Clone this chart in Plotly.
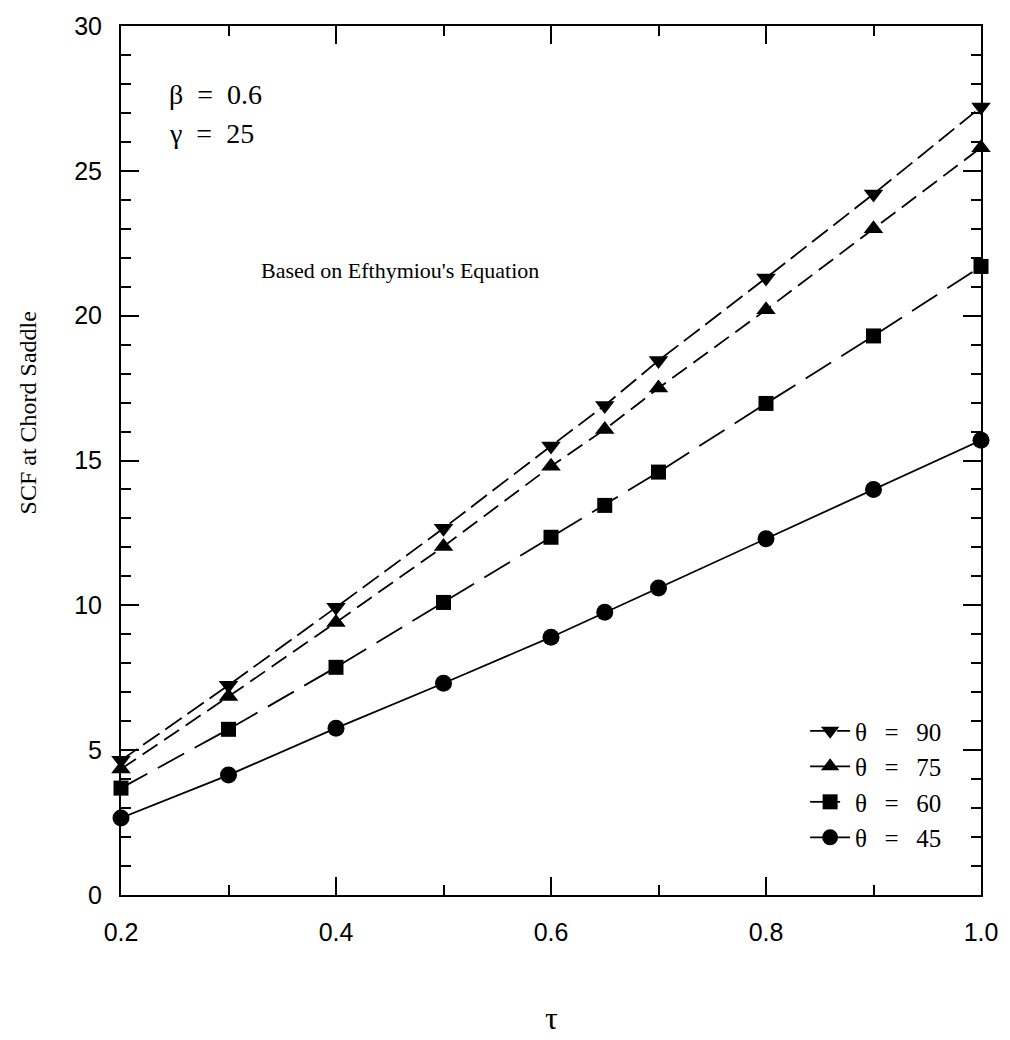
import plotly.graph_objects as go

tau = [0.2, 0.3, 0.4, 0.5, 0.6, 0.65, 0.7, 0.8, 0.9, 1.0]
scf_90 = [4.65, 7.24, 9.93, 12.66, 15.5, 16.9, 18.45, 21.3, 24.2, 27.2]
scf_75 = [4.35, 6.85, 9.41, 12.03, 14.8, 16.07, 17.5, 20.2, 23.0, 25.8]
scf_60 = [3.69, 5.72, 7.86, 10.1, 12.35, 13.45, 14.6, 16.97, 19.3, 21.7]
scf_45 = [2.66, 4.14, 5.76, 7.31, 8.9, 9.76, 10.6, 12.3, 14.0, 15.7]

sp = "\u2002\u2009"
series = [
    ("θ" + sp + "=" + sp + "90", scf_90, "triangle-down", 17, "20px,7px"),
    ("θ" + sp + "=" + sp + "75", scf_75, "triangle-up", 17, "18px,8px"),
    ("θ" + sp + "=" + sp + "60", scf_60, "square", 15, "30px,12px"),
    ("θ" + sp + "=" + sp + "45", scf_45, "circle", 17, "solid"),
]

serif = "Liberation Serif"
sans = "Liberation Sans"

fig = go.Figure()
for name, ys, sym, size, dash in series:
    fig.add_trace(go.Scatter(
        x=tau, y=ys, name=name, mode="lines+markers", cliponaxis=False,
        line=dict(color="black", width=1.8, dash=dash),
        marker=dict(symbol=sym, size=size, color="black", line=dict(width=0)),
    ))

axis_common = dict(
    showline=True, linecolor="black", linewidth=2, mirror="allticks",
    ticks="inside", ticklen=18, tickwidth=1.5, tickcolor="black",
    showgrid=False, zeroline=False,
    tickfont=dict(family=sans, size=25, color="black"),
)

fig.update_xaxes(
    range=[0.2, 1.0], tickvals=[0.2, 0.4, 0.6, 0.8, 1.0],
    ticktext=["0.2", "0.4", "0.6", "0.8", "1.0"],
    minor=dict(ticks="inside", ticklen=10, tickwidth=1.5, tickcolor="black", dtick=0.1, tick0=0.2),
    ticklabelstandoff=14,
    **axis_common,
)
fig.update_yaxes(
    range=[0, 30], tickvals=[0, 5, 10, 15, 20, 25, 30],
    minor=dict(ticks="inside", ticklen=10, tickwidth=1.5, tickcolor="black", dtick=1),
    ticklabelstandoff=12,
    **axis_common,
)

fig.add_annotation(text="β\u2002=\u20020.6", xref="paper", yref="paper",
                   x=(167 - 121) / 863, y=(895 - 93) / 871, xanchor="left", yanchor="middle",
                   showarrow=False, font=dict(family=serif, size=28, color="black"))
fig.add_annotation(text="γ\u2002=\u200225", xref="paper", yref="paper",
                   x=(167 - 121) / 863, y=(895 - 132) / 871, xanchor="left", yanchor="middle",
                   showarrow=False, font=dict(family=serif, size=28, color="black"))
fig.add_annotation(text="Based on Efthymiou's Equation", xref="paper", yref="paper",
                   x=(401 - 121) / 863, y=(895 - 269) / 871, xanchor="center", yanchor="middle",
                   showarrow=False, font=dict(family=serif, size=22, color="black"))
fig.add_annotation(text="SCF at Chord Saddle", xref="paper", yref="paper", textangle=-90,
                   x=(28 - 121) / 863, y=(895 - 412) / 871, xanchor="center", yanchor="middle",
                   showarrow=False, font=dict(family=serif, size=24, color="black"))
fig.add_annotation(text="τ", xref="paper", yref="paper",
                   x=0.5, y=(895 - 1018) / 871, xanchor="center", yanchor="middle",
                   showarrow=False, font=dict(family=serif, size=32, color="black"))

fig.update_layout(
    width=1010, height=1040,
    margin=dict(l=121, r=26, t=24, b=145),
    plot_bgcolor="white", paper_bgcolor="white",
    showlegend=True,
    legend=dict(x=(950 - 121) / 863, y=(895 - 860) / 871, xanchor="right", yanchor="bottom",
                bgcolor="rgba(0,0,0,0)", font=dict(family=serif, size=25, color="black"),
                tracegroupgap=0, itemwidth=40),
)

fig.write_html("out.html")
